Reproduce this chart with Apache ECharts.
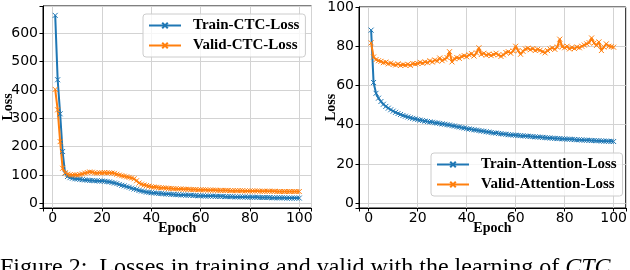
<!DOCTYPE html>
<html><head><meta charset="utf-8">
<script src="https://cdn.jsdelivr.net/npm/echarts@6/dist/echarts.min.js"></script>
<style>html,body{margin:0;padding:0;background:#fff}#c{width:630px;height:270px}</style>
</head><body><div id="c"></div>
<script>
const epochs = Array.from({length:100},(_,i)=>i+1);
const trainCTC = [663,436,316,183,106,95,91,89,87,86,85,84,83,82,81,81,80,80,79,79,78,77,76,74,72,70,67,64,62,59,57,54,51,49,46,44,42,40,39,38,37,36,35,35,34,33,33,32,32,31,31,30,30,29,29,29,28,28,27,27,27,26,26,26,26,25,25,25,25,24,24,24,24,23,23,23,23,23,22,22,22,22,22,21,21,21,21,21,20,20,20,20,20,20,19,19,19,19,19,19];
const validCTC = [402,330,218,124,108,103,101,100,101,100,102,104,107,109,111,110,108,107,108,108,109,108,108,107,106,103,100,98,96,94,92,90,87,80,72,68,65,63,61,59,58,57,56,55,55,54,53,53,52,52,51,51,50,50,50,49,49,49,48,48,48,48,47,47,47,47,46,46,46,46,46,45,45,45,45,45,45,44,44,44,44,44,44,43,43,43,43,43,43,43,42,42,42,42,42,42,42,42,42,42];
const trainAtt = [88.2,61.5,56,53.5,51.8,50.4,49.3,48.4,47.6,46.9,46.3,45.7,45.2,44.7,44.3,43.9,43.5,43.2,42.9,42.6,42.3,42.1,41.8,41.6,41.4,41.2,41.0,40.8,40.6,40.4,40.2,40.0,39.8,39.5,39.3,39.0,38.8,38.5,38.3,38.0,37.8,37.6,37.4,37.2,37.0,36.8,36.6,36.4,36.2,36.0,35.8,35.7,35.5,35.4,35.2,35.1,34.9,34.8,34.7,34.6,34.5,34.4,34.3,34.2,34.1,34.0,33.9,33.8,33.7,33.6,33.5,33.4,33.3,33.2,33.1,33.0,32.9,32.9,32.8,32.7,32.6,32.6,32.5,32.4,32.3,32.3,32.2,32.1,32.1,32.0,31.9,31.9,31.8,31.8,31.7,31.6,31.6,31.5,31.5,31.4];
const validAtt = [81.7,74.5,73.2,72.6,72.3,71.6,71.9,71.0,71.4,70.7,70.4,71.0,70.2,70.6,70.3,70.8,70.2,71.2,70.9,71.2,71.8,71.3,72.0,71.6,72.6,71.9,73.0,72.4,74.0,72.6,73.4,74.2,77.2,72.0,73.6,74.2,73.8,74.8,75.2,74.6,75.6,76.2,75.0,76.6,79.2,75.8,76.4,75.4,76.0,75.2,75.8,76.4,75.6,74.8,75.6,76.8,77.2,76.4,77.6,80.0,77.8,75.9,77.4,78.6,79.0,78.2,78.8,77.8,78.4,78.0,77.2,76.6,77.8,78.6,79.2,78.4,79.6,83.6,79.8,79.2,80.0,78.6,79.4,78.8,79.6,79.2,80.0,80.6,81.2,81.8,84.2,81.6,80.4,82.2,77.8,79.6,81.2,80.0,79.8,79.5];
const names = ['Train-CTC-Loss','Valid-CTC-Loss','Train-Attention-Loss','Valid-Attention-Loss'];
const caption = 'Figure 2:  Losses in training and valid with the learning of ';
const captionItalic = 'CTC';

const BLUE = '#1f77b4', ORANGE = '#ff7f0e';
const XMARK = 'path://M0,0L10,10M10,0L0,10';
const chart = echarts.init(document.getElementById('c'), null, {renderer:'canvas'});
const tickFont = {fontFamily:'DejaVu Sans', fontSize:14, color:'#000'};
const nameFont = {fontFamily:'Liberation Serif', fontWeight:'bold', fontSize:14, color:'#000'};
function xAxis(gi){
  return {type:'value', gridIndex:gi, min:-3.95, max:104.95, splitNumber:5,
    name:'Epoch', nameLocation:'middle', nameGap:13, nameMoveOverlap:false, nameTextStyle:nameFont,
    axisLine:{show:true, onZero:false, lineStyle:{color:'#000', width:1}},
    axisTick:{show:true, length:3.5, lineStyle:{color:'#000'}},
    axisLabel:Object.assign({margin:3,
      formatter:v=> (v>=0 && Math.abs(v%20)<1e-6 ? String(v) : '')}, tickFont),
    splitLine:{show:true, lineStyle:{color:'#d3d3d3', width:1}}};
}
function yAxis(gi, min, max, gap){
  return {type:'value', gridIndex:gi, min:min, max:max, splitNumber:5,
    name:'Loss', nameLocation:'middle', nameGap:gap, nameMoveOverlap:false, nameTextStyle:nameFont,
    axisLine:{show:true, onZero:false, lineStyle:{color:'#000', width:1}},
    axisTick:{show:true, length:3.5, lineStyle:{color:'#000'}},
    axisLabel:Object.assign({margin:5,
      formatter:v=> (v>=0 && Math.abs(v%20)<1e-6 ? String(v) : '')}, tickFont),
    splitLine:{show:true, lineStyle:{color:'#d3d3d3', width:1}}};
}
function series(name, data, color, gi){
  return {name:name, type:'line', xAxisIndex:gi, yAxisIndex:gi,
    data: epochs.map((e,i)=>[e, data[i]]),
    symbol:XMARK, symbolSize:5, showSymbol:true,
    lineStyle:{color:color, width:2},
    itemStyle:{color:color, borderColor:color, borderWidth:1},
    emphasis:{disabled:true}, animation:false};
}
const legendText = {fontFamily:'Liberation Serif', fontWeight:'bold', fontSize:15, color:'#000', padding:[0,0,0,7]};
function legend(d, left, top){
  return {data:d, orient:'vertical', left:left, top:top, padding:[4,6,4,5], itemGap:5,
     itemWidth:32, itemHeight:7, textStyle:legendText, borderColor:'#ccc', borderWidth:1, borderRadius:3,
     backgroundColor:'rgba(255,255,255,0.8)'};
}
chart.setOption({
  animation:false,
  grid:[
    {left:42, top:6, width:269.5, height:202, show:true, borderColor:'#000', borderWidth:1, backgroundColor:'transparent'},
    {left:359, top:6, width:270, height:202, show:true, borderColor:'#000', borderWidth:1, backgroundColor:'transparent'}
  ],
  xAxis:[xAxis(0), xAxis(1)],
  yAxis:[yAxis(0,-16,696,28), yAxis(1,-2.5,100,21)],
  legend:[legend([names[0],names[1]],143,14), legend([names[2],names[3]],431,153)],
  series:[
    series(names[0], trainCTC, BLUE, 0),
    series(names[1], validCTC, ORANGE, 0),
    series(names[2], trainAtt, BLUE, 1),
    series(names[3], validAtt, ORANGE, 1)
  ],
  graphic:[{type:'text', left:0, top:256, style:{
    text:'{a|'+caption+'}{b|'+captionItalic+'}',
    rich:{a:{fontFamily:'Liberation Serif', fontSize:24, fill:'#000'},
          b:{fontFamily:'Liberation Serif', fontStyle:'italic', fontSize:24, fill:'#000'}}}}]
});
</script></body></html>
